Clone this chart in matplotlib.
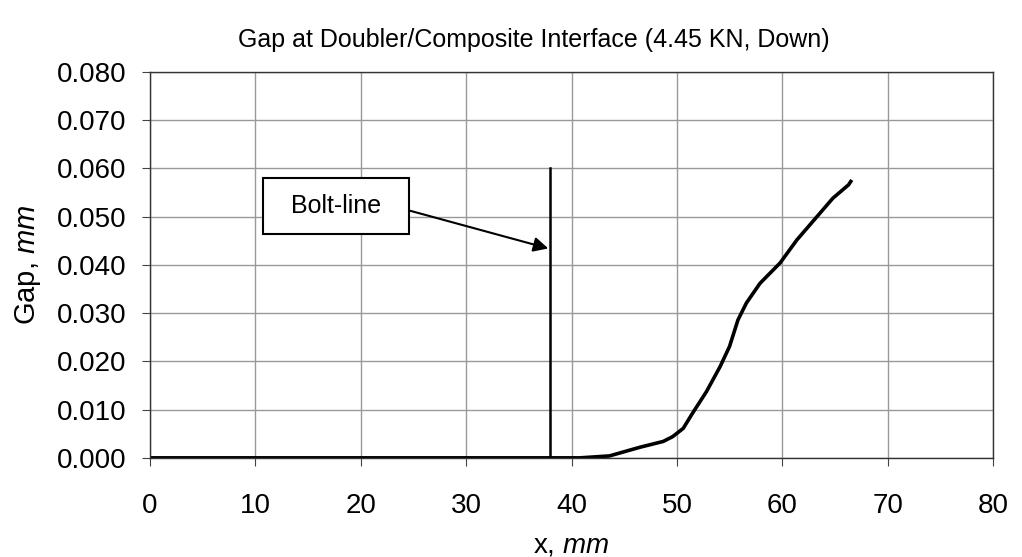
import matplotlib
matplotlib.use("Agg")
import matplotlib.pyplot as plt
from matplotlib.patches import Rectangle

plt.rcParams['font.family'] = ['Liberation Sans', 'DejaVu Sans']
plt.rcParams['mathtext.fontset'] = 'custom'
plt.rcParams['mathtext.it'] = 'Liberation Sans:italic'
plt.rcParams['mathtext.rm'] = 'Liberation Sans'

# gap curve
x_mm = [0, 10, 20, 30, 38, 40.8, 43.6, 46.5, 48.7, 49.6, 50.6, 51.5, 52.8, 54.1,
        55.0, 55.8, 56.6, 57.9, 59.8, 61.4, 63.3, 64.8, 66.3, 66.6]
gap = [0, 0, 0, 0, 0, 0, 0.0004, 0.0022, 0.0034, 0.0044, 0.0061, 0.0093, 0.0137,
       0.0189, 0.0231, 0.0286, 0.0321, 0.0362, 0.0404, 0.0452, 0.0500, 0.0538,
       0.0566, 0.0576]

bolt_x = 38
bolt_top = 0.060

xticks = [0, 10, 20, 30, 40, 50, 60, 70, 80]
yticks = [0, 0.01, 0.02, 0.03, 0.04, 0.05, 0.06, 0.07, 0.08]

fig = plt.figure(figsize=(10.22, 5.57), dpi=100)
ax = fig.add_axes([0.1468, 0.178, 0.8248, 0.693])

ax.plot(x_mm, gap, color='black', lw=2.6, solid_capstyle='butt')
ax.plot([bolt_x, bolt_x], [0, bolt_top], color='black', lw=1.8)

ax.set_xlim(0, 80)
ax.set_ylim(0, 0.08)
ax.set_xticks(xticks)
ax.set_yticks(yticks)
ax.set_yticklabels(['%.3f' % v for v in yticks])
ax.grid(True, color='#999999', lw=1.0)
ax.tick_params(labelsize=20, length=6, color='#444444')
ax.tick_params(axis='x', pad=19)
ax.tick_params(axis='y', pad=11)
for s in ax.spines.values():
    s.set_color('#333333')
    s.set_linewidth(1.0)

# label box and arrow for the bolt line
ax.add_patch(Rectangle((10.7, 0.0463), 13.9, 0.0117, fc='white', ec='black',
                       lw=1.5, zorder=4))
ax.text(17.65, 0.0522, 'Bolt-line', fontsize=18, ha='center', va='center',
        zorder=5)
ax.annotate('', xy=(37.8, 0.0434), xytext=(24.7, 0.0512),
            arrowprops=dict(arrowstyle='-|>', color='black', lw=1.5,
                            mutation_scale=22, shrinkA=0, shrinkB=0))

ax.set_xlabel('x, $\\it{mm}$', fontsize=20, labelpad=10)
ax.set_ylabel('Gap, $\\it{mm}$', fontsize=21, labelpad=10)
fig.suptitle('Gap at Doubler/Composite Interface (4.45 KN, Down)', fontsize=18,
             x=0.522, y=0.95)

fig.savefig('out.png', dpi=100)
